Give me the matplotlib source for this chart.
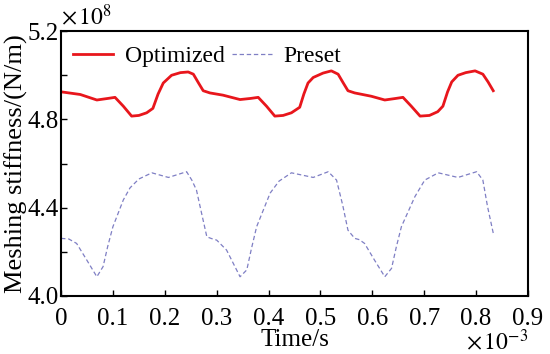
import matplotlib
matplotlib.use("Agg")
import matplotlib.pyplot as plt

# Time in units of 1e-3 s, stiffness in units of 1e8 N/m
t_opt = [0, 0.037, 0.069, 0.090, 0.104, 0.120, 0.136, 0.150, 0.165, 0.177, 0.187, 0.197,
         0.213, 0.230, 0.245, 0.255, 0.265, 0.274, 0.287, 0.312, 0.345, 0.365, 0.380, 0.396,
         0.412, 0.428, 0.444, 0.460, 0.468, 0.476, 0.486, 0.505, 0.521, 0.534, 0.544, 0.553, 0.566,
         0.598, 0.624, 0.645, 0.659, 0.675, 0.692, 0.710, 0.726, 0.736, 0.745, 0.753, 0.765,
         0.780, 0.798, 0.813, 0.823, 0.833]
k_opt = [4.925, 4.913, 4.888, 4.895, 4.900, 4.860, 4.815, 4.818, 4.830, 4.850, 4.915, 4.965,
         5.000, 5.012, 5.015, 5.005, 4.965, 4.930, 4.920, 4.910, 4.890, 4.895, 4.900, 4.860,
         4.815, 4.818, 4.830, 4.855, 4.915, 4.965, 4.990, 5.010, 5.020, 5.005, 4.965, 4.930, 4.920,
         4.905, 4.888, 4.895, 4.900, 4.860, 4.815, 4.818, 4.835, 4.860, 4.925, 4.970, 5.000,
         5.012, 5.020, 5.005, 4.970, 4.930]

t_pre = [0, 0.015, 0.030, 0.0495, 0.069, 0.081, 0.090, 0.100, 0.120, 0.133, 0.150, 0.175, 0.207,
         0.242, 0.252, 0.261, 0.268, 0.281, 0.290, 0.300, 0.319, 0.345, 0.358, 0.367, 0.377, 0.403,
         0.420, 0.444, 0.486, 0.515, 0.531, 0.543, 0.553, 0.566, 0.575, 0.585, 0.604, 0.624, 0.637,
         0.646, 0.656, 0.682, 0.701, 0.727, 0.765, 0.801, 0.813, 0.822, 0.833]
k_pre = [4.261, 4.258, 4.238, 4.163, 4.087, 4.133, 4.225, 4.314, 4.435, 4.490, 4.530, 4.558, 4.537,
         4.563, 4.525, 4.480, 4.405, 4.268, 4.260, 4.253, 4.208, 4.087, 4.118, 4.215, 4.314, 4.466,
         4.520, 4.558, 4.537, 4.563, 4.525, 4.410, 4.298, 4.261, 4.255, 4.238, 4.163, 4.087, 4.125,
         4.220, 4.314, 4.450, 4.525, 4.558, 4.537, 4.563, 4.525, 4.405, 4.285]

x_ticks = [0, 0.1, 0.2, 0.3, 0.4, 0.5, 0.6, 0.7, 0.8, 0.9]
x_tick_labels = ["0", "0.1", "0.2", "0.3", "0.4", "0.5", "0.6", "0.7", "0.8", "0.9"]
y_ticks = [4.0, 4.2, 4.4, 4.6, 4.8, 5.0, 5.2]
y_tick_labels = ["4.0", "", "4.4", "", "4.8", "", "5.2"]

plt.rcParams['font.family'] = ['Liberation Serif', 'DejaVu Serif']
plt.rcParams['mathtext.fontset'] = 'stix'

fig = plt.figure(figsize=(5.5, 3.54), dpi=100)
ax = fig.add_axes([0.111, 0.164, 0.849, 0.748])

ax.plot(t_opt, k_opt, color='#e8161c', lw=2.0, label='Optimized', solid_joinstyle='round')
ax.plot(t_pre, k_pre, color='#7f7fc4', lw=0.9, dashes=(3.5, 2.2), label='Preset')

ax.set_xlim(0, 0.9)
ax.set_ylim(4.0, 5.2)
ax.set_xticks(x_ticks)
ax.set_xticklabels(x_tick_labels)
ax.set_yticks(y_ticks)
ax.set_yticklabels(y_tick_labels)
ax.tick_params(direction='in', length=4, width=1, labelsize=18, pad=2,
               top=False, right=False)
ax.tick_params(axis='x', pad=9)
for s in ax.spines.values():
    s.set_linewidth(1.5)

ax.set_xlabel('Time/s', fontsize=18, labelpad=-1)
ax.set_ylabel('Meshing stiffness/(N/m)', fontsize=19, labelpad=-1)

ax.text(0.0, 1.005, r'$\times\,10^{8}$', transform=ax.transAxes, fontsize=17,
        ha='left', va='bottom')
ax.text(0.868, -0.125, r'$\times\,10^{-3}$', transform=ax.transAxes, fontsize=17,
        ha='left', va='top')

leg = ax.legend(loc='upper left', ncol=2, frameon=False, fontsize=17,
                handlelength=1.7, handletextpad=0.5, columnspacing=0.3,
                bbox_to_anchor=(-0.005, 1.0), borderaxespad=0.2)

fig.savefig('out.png', dpi=100)
